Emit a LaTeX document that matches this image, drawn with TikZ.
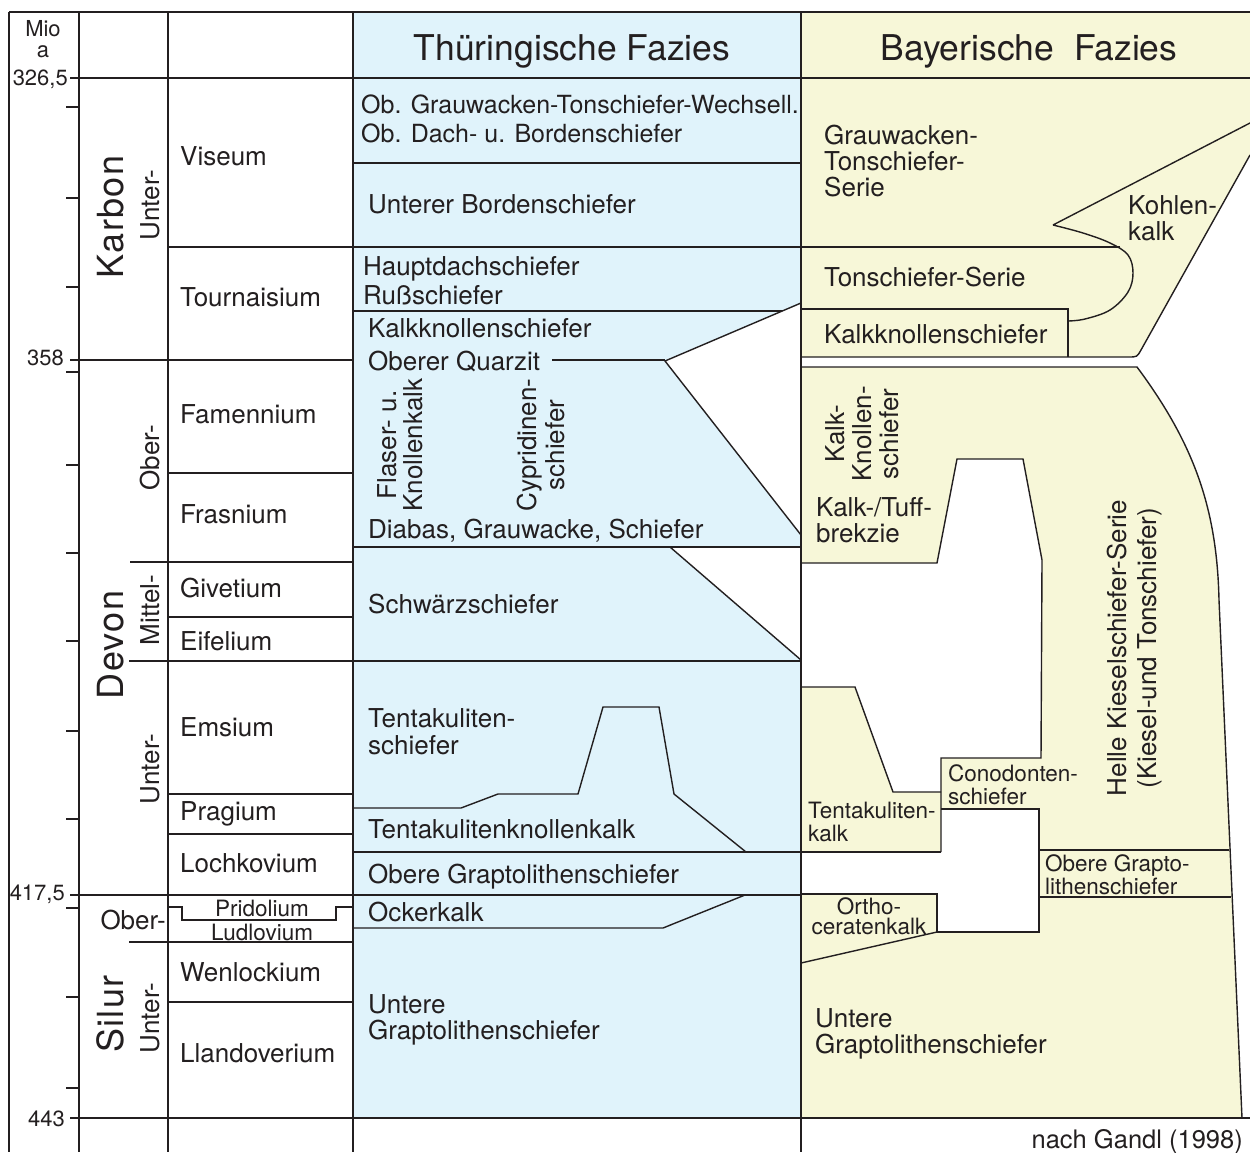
\documentclass[tikz,border=0pt]{standalone}
\usepackage{fontspec}
\setmainfont{TeX Gyre Heros}
\newfontfamily\bigfont[LetterSpace=4]{TeX Gyre Heros}
\definecolor{thblue}{RGB}{224,243,251}
\definecolor{byel}{RGB}{247,247,216}
\definecolor{ln}{RGB}{35,31,32}
\tikzset{
  txt/.style={inner sep=0pt, text depth=0pt, text=ln, font=\fontsize{26}{26}\selectfont},
  lt/.style={txt, anchor=west, align=left},
  ct/.style={txt, anchor=center, align=center},
  rt/.style={txt, anchor=east},
  vt/.style={txt, anchor=center, align=center, rotate=90},
  smallf/.style={font=\fontsize{22.5}{22}\selectfont},
  tickf/.style={font=\fontsize{22}{21}\selectfont},
  bigf/.style={font=\bigfont\fontsize{36}{36}\selectfont},
  hdr/.style={txt, anchor=center, font=\fontsize{35.5}{35.5}\selectfont},
  ln/.style={draw=ln, line width=1.4pt, line join=miter},
  frame/.style={draw=ln, line width=1.6pt},
}
\begin{document}
\begin{tikzpicture}[x=1pt,y=-1pt]
\useasboundingbox (0,0) rectangle (1250,1152);
% ---------- fills ----------
\fill[thblue] (353,12) rectangle (801,1118);
\fill[white] (801,303) -- (665,361) -- (801,535) -- cycle;
\fill[white] (670,547) -- (801,547) -- (801,660) -- cycle;
\fill[byel] (801,12) rectangle (1250,78);
\fill[byel] (801,78) -- (1250,78) -- (1250,155) -- (1141,350) .. controls (1137,357) .. (1128,357) -- (801,357) -- cycle;
\fill[byel] (801,367) -- (1137,367) .. controls (1195,445) and (1217,510) .. (1219,600) -- (1242,1118) -- (801,1118) -- cycle;
\fill[white] (801,563) -- (937,563) -- (957,459) -- (1023,459) -- (1042,560) -- (1041,758) -- (941,758) -- (941,792) -- (893,792) -- (855,687) -- (801,687) -- cycle;
\fill[white] (801,852) -- (941,852) -- (941,809) -- (1039,809) -- (1039,932) -- (937,932) -- (937,894) -- (801,894) -- cycle;
% ---------- frame ----------
\draw[frame] (9,12) -- (1250,12);
\foreach \xx in {9,79,168,353,801} \draw[frame] (\xx,12) -- (\xx,1152);
% time lines
\draw[ln] (70,78) -- (1250,78);
\draw[ln] (70,360) -- (353,360);
\draw[ln] (70,895) -- (801,895);
\draw[ln] (70,1118) -- (1250,1118);
\foreach \yy in {107,198,287,372,465,553,641,731,819,908,997,1088} \draw[ln] (66,\yy) -- (79,\yy);
% stage lines
\draw[ln] (168,247) -- (1120,247);
\draw[ln] (168,473) -- (353,473);
\draw[ln] (130,562) -- (353,562);
\draw[ln] (168,617) -- (353,617);
\draw[ln] (129,661) -- (801,661);
\draw[ln] (168,794) -- (353,794);
\draw[ln] (168,834) -- (353,834);
\draw[ln] (168,907) -- (182,907) -- (182,920) -- (336,920) -- (336,907) -- (353,907);
\draw[ln] (129,942) -- (353,942);
\draw[ln] (168,1002) -- (353,1002);
% Thueringische lines
\draw[ln] (353,163) -- (801,163);
\draw[ln] (353,311) -- (782,311);
\draw[ln] (801,303) -- (665,361) -- (801,535);
\draw[ln] (552,360) -- (665,360);
\draw[ln] (353,547) -- (801,547);
\draw[ln] (670,547) -- (801,660);
\draw[ln] (353,808) -- (461,808) -- (498,794) -- (578,794) -- (603,707) -- (659,707) -- (674,794) -- (746,852);
\draw[ln] (353,852) -- (801,852);
\draw[ln] (745,895) -- (663,928) -- (353,928);
% Bayerische lines
\draw[ln] (1250,123) -- (1053,225) plot[smooth, tension=0.6] coordinates {(1053,225) (1083,233) (1110,243) (1128,255) (1133,273) (1128,292) (1110,310) (1085,319) (1068,321)};
\draw[ln] (1250,155) -- (1141,350) .. controls (1137,357) .. (1128,357) -- (801,357);
\draw[ln] (801,309) -- (1068,309) -- (1068,357);
\draw[ln] (801,367) -- (1137,367) .. controls (1195,445) and (1217,510) .. (1219,600) -- (1242,1118);
\draw[ln] (801,563) -- (937,563) -- (957,459) -- (1023,459) -- (1042,560) -- (1041,758) -- (941,758) -- (941,852);
\draw[ln] (941,792) -- (893,792) -- (855,687) -- (801,687);
\draw[ln] (801,852) -- (941,852);
\draw[ln] (941,809) -- (1039,809) -- (1039,932) -- (937,932) -- (937,894) -- (801,894);
\draw[ln] (801,963) -- (937,932);
\draw[ln] (1039,850) -- (1229,850);
\draw[ln] (1039,897) -- (1231,897);
% ---------- texts: left scale ----------
\node[ct, tickf] (mio) at (43,39) {Mio\\a};
\node[rt, tickf] (t1) at (68,78) {326,5};
\node[rt, tickf] (t2) at (64,358) {358};
\node[rt, tickf] (t3) at (65,893) {417,5};
\node[rt, tickf] (t4) at (65,1119) {443};
% systems / series
\node[vt, bigf] (karbon) at (110,217) {Karbon};
\node[vt] (unterK) at (150,205) {Unter-};
\node[vt, bigf] (devon) at (110,645) {Devon};
\node[vt] (oberD) at (150,458) {Ober-};
\node[vt] (mittelD) at (150,610) {Mittel-};
\node[vt] (unterD) at (150,769) {Unter-};
\node[vt, bigf] (silur) at (110,1014) {Silur};
\node[rt] (oberS) at (166,920) {Ober-};
\node[vt] (unterS) at (150,1018) {Unter-};
% stages
\node[lt] (viseum) at (180,156) {Viseum};
\node[lt] (tourn) at (180,297) {Tournaisium};
\node[lt] (famen) at (180,414) {Famennium};
\node[lt] (frasn) at (180,514) {Frasnium};
\node[lt] (givet) at (180,588) {Givetium};
\node[lt] (eifel) at (180,641) {Eifelium};
\node[lt] (emsium) at (180,727) {Emsium};
\node[lt] (pragium) at (180,811) {Pragium};
\node[lt] (lochk) at (180,863) {Lochkovium};
\node[ct, smallf] (prid) at (262,908) {Pridolium};
\node[ct, smallf] (ludl) at (262,932) {Ludlovium};
\node[lt] (wenl) at (180,972) {Wenlockium};
\node[lt] (lland) at (180,1053) {Llandoverium};
% ---------- Thueringische Fazies ----------
\node[hdr] (hth) at (572,48) {Thüringische Fazies};
\node[lt, font=\fontsize{25}{29}\selectfont] (th1) at (361,118.5) {Ob. Grauwacken-Tonschiefer-Wechsell.\\Ob. Dach- u. Bordenschiefer};
\node[lt] (th2) at (368,204) {Unterer Bordenschiefer};
\node[lt, font=\fontsize{26}{29}\selectfont] (th3) at (363,280.5) {Hauptdachschiefer\\Rußschiefer};
\node[lt] (th4) at (368,328) {Kalkknollenschiefer};
\node[lt] (th5) at (368,361) {Oberer Quarzit};
\node[vt] (th6) at (400,445) {Flaser- u.\\Knollenkalk};
\node[vt, font=\fontsize{26}{28}\selectfont] (th7) at (541,445) {Cypridinen-\\schiefer};
\node[lt] (th8) at (368,529) {Diabas, Grauwacke, Schiefer};
\node[lt] (th9) at (368,604) {Schwärzschiefer};
\node[lt, font=\fontsize{26}{27}\selectfont] (th10) at (368,731.5) {Tentakuliten-\\schiefer};
\node[lt] (th11) at (368,829) {Tentakulitenknollenkalk};
\node[lt] (th12) at (368,874) {Obere Graptolithenschiefer};
\node[lt] (th13) at (368,912) {Ockerkalk};
\node[lt] (th14) at (368,1017) {Untere\\Graptolithenschiefer};
% ---------- Bayerische Fazies ----------
\node[hdr] (hby) at (1029,48) {Bayerische\ \ Fazies};
\node[lt] (by1) at (824,161) {Grauwacken-\\Tonschiefer-\\Serie};
\node[lt] (by2) at (1128,218) {Kohlen-\\kalk};
\node[lt] (by3) at (824,277) {Tonschiefer-Serie};
\node[lt] (by4) at (824,334) {Kalkknollenschiefer};
\node[vt, font=\fontsize{26}{27}\selectfont] (by5) at (862,434) {Kalk-\\Knollen-\\schiefer};
\node[lt] (by6) at (816,520) {Kalk-/Tuff-\\brekzie};
\node[vt, font=\fontsize{26}{30}\selectfont] (by7) at (1132,648) {Helle Kieselschiefer-Serie\\(Kiesel-und Tonschiefer)};
\node[lt, font=\fontsize{22.5}{23}\selectfont] (by8) at (808,821.5) {Tentakuliten-\\kalk};
\node[lt, font=\fontsize{22.5}{23}\selectfont] (by9) at (948,784.5) {Conodonten-\\schiefer};
\node[lt, font=\fontsize{22.5}{21}\selectfont] (by10) at (1045,874.5) {Obere Grapto-\\lithenschiefer};
\node[ct, font=\fontsize{22.5}{20}\selectfont] (by11) at (869,916.5) {Ortho-\\ceratenkalk};
\node[lt] (by12) at (815,1031) {Untere\\Graptolithenschiefer};
\node[rt, font=\fontsize{25.5}{25.5}\selectfont] (src) at (1243,1139) {nach Gandl (1998)};
\end{tikzpicture}
\end{document}
